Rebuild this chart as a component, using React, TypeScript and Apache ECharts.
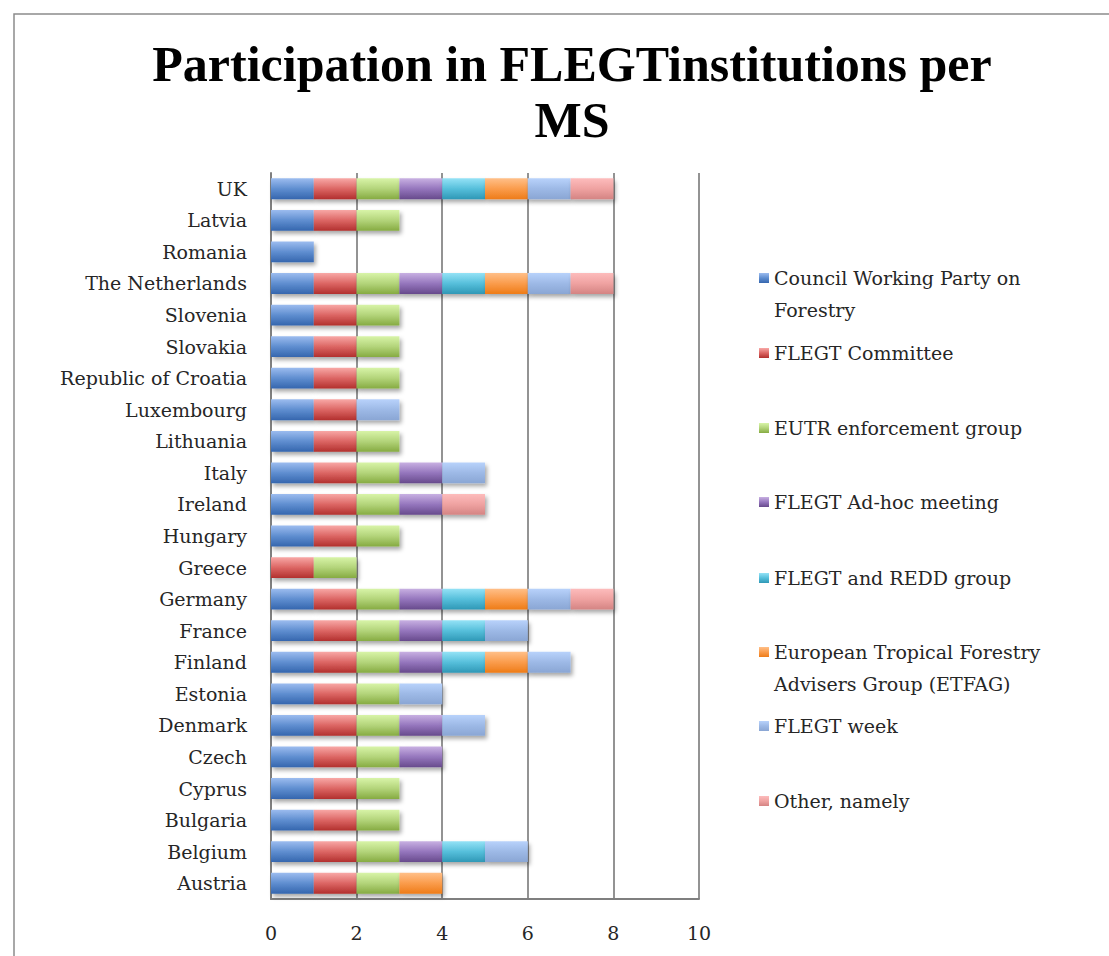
import React, { useEffect, useRef } from "react";
import * as echarts from "echarts";

const countries = [
  "Austria", "Belgium", "Bulgaria", "Cyprus", "Czech", "Denmark", "Estonia",
  "Finland", "France", "Germany", "Greece", "Hungary", "Ireland", "Italy",
  "Lithuania", "Luxembourg", "Republic of Croatia", "Slovakia", "Slovenia",
  "The Netherlands", "Romania", "Latvia", "UK",
];

const seriesNames = [
  "Council Working Party on Forestry",
  "FLEGT Committee",
  "EUTR enforcement group",
  "FLEGT Ad-hoc meeting",
  "FLEGT and REDD group",
  "European Tropical Forestry Advisers Group (ETFAG)",
  "FLEGT week",
  "Other, namely",
];

const legendLabels = [
  "Council Working Party on\nForestry",
  "FLEGT Committee",
  "EUTR enforcement group",
  "FLEGT Ad-hoc meeting",
  "FLEGT and REDD group",
  "European Tropical Forestry\nAdvisers Group (ETFAG)",
  "FLEGT week",
  "Other, namely",
];

// values per country in the order of `countries`
const councilWP = [1, 1, 1, 1, 1, 1, 1, 1, 1, 1, 0, 1, 1, 1, 1, 1, 1, 1, 1, 1, 1, 1, 1];
const flegtCommittee = [1, 1, 1, 1, 1, 1, 1, 1, 1, 1, 1, 1, 1, 1, 1, 1, 1, 1, 1, 1, 0, 1, 1];
const eutrGroup = [1, 1, 1, 1, 1, 1, 1, 1, 1, 1, 1, 1, 1, 1, 1, 0, 1, 1, 1, 1, 0, 1, 1];
const adHoc = [0, 1, 0, 0, 1, 1, 0, 1, 1, 1, 0, 0, 1, 1, 0, 0, 0, 0, 0, 1, 0, 0, 1];
const reddGroup = [0, 1, 0, 0, 0, 0, 0, 1, 1, 1, 0, 0, 0, 0, 0, 0, 0, 0, 0, 1, 0, 0, 1];
const etfag = [1, 0, 0, 0, 0, 0, 0, 1, 0, 1, 0, 0, 0, 0, 0, 0, 0, 0, 0, 1, 0, 0, 1];
const flegtWeek = [0, 1, 0, 0, 0, 1, 1, 1, 1, 1, 0, 0, 0, 1, 0, 1, 0, 0, 0, 1, 0, 0, 1];
const otherNamely = [0, 0, 0, 0, 0, 0, 0, 0, 0, 1, 0, 0, 1, 0, 0, 0, 0, 0, 0, 1, 0, 0, 1];

const seriesValues = [councilWP, flegtCommittee, eutrGroup, adHoc, reddGroup, etfag, flegtWeek, otherNamely];

const xTicks = { min: 0, max: 10, interval: 2 };

const gradientStops: [string, string, string][] = [
  ["#9cbcef", "#5f8ed0", "#3566ae"],
  ["#f8a8a6", "#dc6664", "#b2302e"],
  ["#d8f4a8", "#b3d47a", "#86ab42"],
  ["#c8b0e2", "#9576bd", "#674a8c"],
  ["#94e2f6", "#56bfdb", "#2f98b6"],
  ["#ffbf88", "#fa9c4c", "#ee7c18"],
  ["#b8d2fb", "#9db9e6", "#8aa6d4"],
  ["#fdbcbc", "#efa2a1", "#d48483"],
];

const legendIconY = [278, 353, 428, 502, 578, 652, 726, 801];

const FONT = "'DejaVu Serif', serif";

export default function App() {
  const ref = useRef<HTMLDivElement>(null);

  useEffect(() => {
    if (!ref.current) return;
    const chart = echarts.init(ref.current, undefined, { renderer: "svg" });

    const grad = (i: number) =>
      new echarts.graphic.LinearGradient(0, 0, 0, 1, [
        { offset: 0, color: gradientStops[i][0] },
        { offset: 0.5, color: gradientStops[i][1] },
        { offset: 1, color: gradientStops[i][2] },
      ]);

    const L = 32;
    const legends = seriesNames.map((name, i) => {
      const twoLine = legendLabels[i].includes("\n");
      const label = twoLine ? "\n" + legendLabels[i] : legendLabels[i];
      const boxH = twoLine ? 3 * L : L;
      return {
        orient: "vertical",
        left: 759,
        top: legendIconY[i] - boxH / 2,
        padding: 0,
        itemWidth: 10,
        itemHeight: 10,
        itemGap: 0,
        icon: "rect",
        selectedMode: false,
        data: [name],
        formatter: () => label,
        textStyle: {
          fontFamily: FONT,
          fontSize: 19,
          color: "#262626",
          lineHeight: L,
        },
      };
    });

    chart.setOption({
      animation: false,
      backgroundColor: "#ffffff",
      title: {
        text: "Participation in FLEGTinstitutions per\nMS",
        left: 567,
        top: 31,
        textAlign: "center",
        textStyle: {
          fontFamily: "'Liberation Serif', serif",
          fontWeight: "bold",
          fontSize: 50,
          lineHeight: 56,
          color: "#000000",
        },
      },
      graphic: [
        {
          type: "rect",
          shape: { x: 14, y: 14, width: 1200, height: 1000 },
          style: { fill: "none", stroke: "#8c8c8c", lineWidth: 1.5 },
          silent: true,
          z: -10,
        },
      ],
      legend: legends,
      grid: { left: 271, right: 1109 - 699, top: 173, bottom: 956 - 899 },
      xAxis: {
        type: "value",
        min: xTicks.min,
        max: xTicks.max,
        interval: xTicks.interval,
        axisLine: { show: true, lineStyle: { color: "#7f7f7f", width: 2 } },
        axisTick: { show: false },
        axisLabel: { fontFamily: FONT, fontSize: 19, color: "#262626", margin: 24 },
        splitLine: { show: true, lineStyle: { color: "#6f6f6f", width: 1.5 } },
      },
      yAxis: {
        type: "category",
        data: countries,
        axisLine: { show: true, lineStyle: { color: "#7f7f7f", width: 2 } },
        axisTick: { show: false },
        axisLabel: { fontFamily: FONT, fontSize: 19, color: "#262626", margin: 24 },
        splitLine: { show: false },
      },
      series: seriesNames.map((name, i) => ({
        name,
        type: "bar",
        stack: "total",
        barWidth: "66%",
        data: seriesValues[i].map((v) => (v === 0 ? null : v)),
        itemStyle: {
          color: grad(i),
          shadowColor: "rgba(0,0,0,0.35)",
          shadowBlur: 4,
          shadowOffsetX: 2,
          shadowOffsetY: 3,
        },
      })),
    });

    return () => chart.dispose();
  }, []);

  return (
    <div
      ref={ref}
      style={{ position: "fixed", left: 0, top: 0, width: 1109, height: 956 }}
    />
  );
}
